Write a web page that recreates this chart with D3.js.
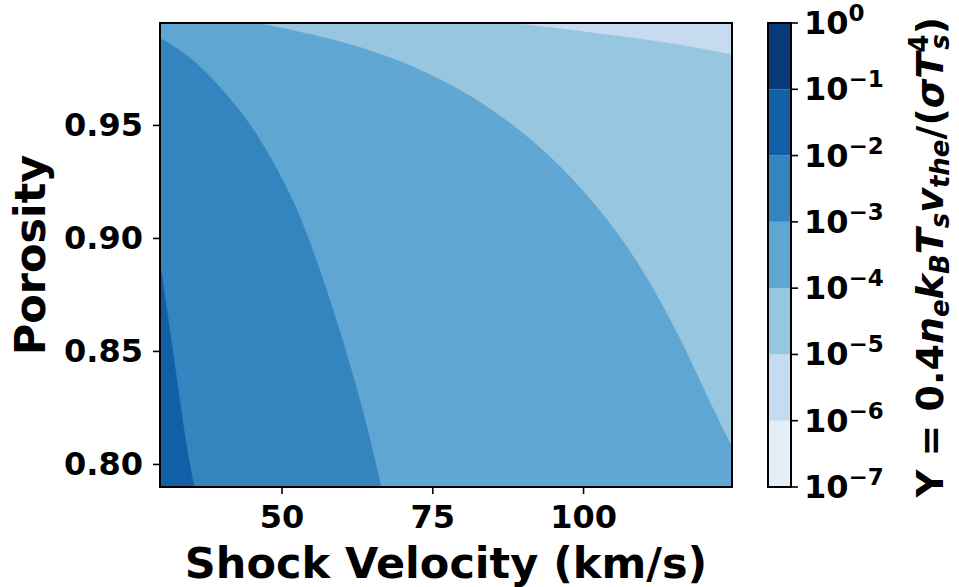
<!DOCTYPE html>
<html lang="en">
<head>
<meta charset="UTF-8">
<title>Porosity vs Shock Velocity</title>
<style>
  body { margin: 0; background: #fff; }
  svg { font-family: "DejaVu Sans", sans-serif; font-weight: bold; }
  .axis path, .axis line { stroke: #000; stroke-width: 1.6; }
</style>
</head>
<body>
<svg id="chart" width="959" height="587"></svg>
<script src="https://d3js.org/d3.v7.min.js"></script>
<script>
// ---- data ----
const velocityRange = [29.85, 124.7];   // km/s
const porosityRange = [0.7898, 0.9951];
const xTicks = [50, 75, 100];
const yTicks = [0.80, 0.85, 0.90, 0.95];
const levels = [1e-7, 1e-6, 1e-5, 1e-4, 1e-3, 1e-2, 1e-1, 1e0];
const levelColors = ["#e2eef8", "#c6dbef", "#97c6e0", "#60a6d2", "#3484bf", "#135fa7", "#083a7a"];

// contour boundaries [velocity, porosity]
const edge1e6 = [[87.8, 0.9951], [94.4, 0.9932], [102, 0.9905], [111, 0.9876], [118, 0.9845], [124.7, 0.981]];
const edge1e5 = [[45.9, 0.9951], [58.0, 0.9885], [69.0, 0.9796], [79.5, 0.9663], [88.0, 0.9513], [96.3, 0.9323],
  [104.3, 0.9079], [110.5, 0.8836], [116.3, 0.8548], [121.2, 0.8261], [124.7, 0.8075]];
const edge1e4 = [[29.85, 0.9884], [35.1, 0.9802], [40.8, 0.964], [45.2, 0.9493], [49.05, 0.9316], [52.2, 0.9153],
  [54.8, 0.8976], [57.3, 0.8785], [59.8, 0.8578], [62.4, 0.8342], [64.6, 0.8121], [66.5, 0.7898]];
const edge1e3 = [[29.85, 0.889], [31.0, 0.868], [32.55, 0.839], [34.1, 0.809], [35.5, 0.7898]];

const svg = d3.select('#chart');
const margin = { top: 23, right: 227, bottom: 100, left: 160 };
const width = 959 - margin.left - margin.right;
const height = 587 - margin.top - margin.bottom;

const x = d3.scaleLinear().domain(velocityRange).range([0, width]);
const y = d3.scaleLinear().domain(porosityRange).range([height, 0]);

const g = svg.append('g').attr('transform', `translate(${margin.left},${margin.top})`);

g.append('clipPath').attr('id', 'plotclip')
  .append('rect').attr('width', width).attr('height', height);

const plot = g.append('g').attr('clip-path', 'url(#plotclip)');

// background = lowest band present
plot.append('rect').attr('width', width).attr('height', height).attr('fill', levelColors[1]);

const smooth = d3.line().x(d => x(d[0])).y(d => y(d[1])).curve(d3.curveBasis);
const [v0, v1] = velocityRange;
const [p0, p1] = porosityRange;

function region(edge, corners) {
  return smooth(edge) + corners.map(c => `L${x(c[0])},${y(c[1])}`).join('') + 'Z';
}

const bands = [
  { edge: edge1e6, corners: [[v1, p0], [v0, p0], [v0, p1]], color: levelColors[2] },
  { edge: edge1e5, corners: [[v1, p0], [v0, p0], [v0, p1]], color: levelColors[3] },
  { edge: edge1e4, corners: [[v0, p0]], color: levelColors[4] },
  { edge: edge1e3, corners: [[v0, p0]], color: levelColors[5] }
];

plot.selectAll('path.band')
  .data(bands)
  .enter().append('path')
  .attr('class', 'band')
  .attr('d', d => region(d.edge, d.corners))
  .attr('fill', d => d.color)
  .attr('stroke', d => d.color)
  .attr('stroke-width', 0.5);

// axes
g.append('g').attr('class', 'axis')
  .attr('transform', `translate(0,${height})`)
  .call(d3.axisBottom(x).tickValues(xTicks).tickSize(7).tickPadding(11).tickFormat(d3.format('d')))
  .call(s => s.select('.domain').remove())
  .call(s => s.selectAll('text').attr('font-size', 32).attr('font-weight', 'bold')
    .attr('font-family', '"DejaVu Sans", sans-serif').attr('fill', '#000'));

g.append('g').attr('class', 'axis')
  .call(d3.axisLeft(y).tickValues(yTicks).tickSize(7).tickPadding(10).tickFormat(d3.format('.2f')))
  .call(s => s.select('.domain').remove())
  .call(s => s.selectAll('text').attr('font-size', 32).attr('font-weight', 'bold')
    .attr('font-family', '"DejaVu Sans", sans-serif').attr('fill', '#000'));

g.append('rect').attr('width', width).attr('height', height)
  .attr('fill', 'none').attr('stroke', '#000').attr('stroke-width', 2);

// axis titles
svg.append('text')
  .attr('x', margin.left + width / 2).attr('y', 578)
  .attr('text-anchor', 'middle').attr('font-size', 43)
  .text('Shock Velocity (km/s)');

svg.append('text')
  .attr('transform', `translate(45,${margin.top + height / 2}) rotate(-90)`)
  .attr('text-anchor', 'middle').attr('font-size', 43)
  .text('Porosity');

// colorbar
const cbX = 768, cbW = 23;
const cy = d3.scaleLog().domain([levels[0], levels[levels.length - 1]]).range([margin.top + height, margin.top]);
const cb = svg.append('g');

cb.selectAll('rect.cb')
  .data(d3.pairs(levels))
  .enter().append('rect')
  .attr('class', 'cb')
  .attr('x', cbX).attr('width', cbW)
  .attr('y', d => cy(d[1]))
  .attr('height', d => cy(d[0]) - cy(d[1]))
  .attr('fill', (d, i) => levelColors[i]);

cb.append('rect').attr('x', cbX).attr('y', margin.top).attr('width', cbW).attr('height', height)
  .attr('fill', 'none').attr('stroke', '#000').attr('stroke-width', 2);

const cbTicks = cb.selectAll('g.cbtick')
  .data(levels)
  .enter().append('g')
  .attr('class', 'cbtick')
  .attr('transform', d => `translate(${cbX + cbW},${cy(d)})`);

cbTicks.append('line').attr('x2', 7).attr('stroke', '#000').attr('stroke-width', 1.6);

const cbLabel = cbTicks.append('text')
  .attr('x', 13).attr('y', 11)
  .attr('font-size', 32);
cbLabel.append('tspan').text('10');
cbLabel.append('tspan')
  .attr('dy', -13).attr('font-size', 23)
  .text(d => Math.round(Math.log10(d)).toString().replace('-', '\u2212'));

// colorbar title (math)
const title = svg.append('text')
  .attr('transform', `translate(943,${margin.top + height / 2 + 2}) rotate(-90)`)
  .attr('text-anchor', 'middle').attr('font-size', 38);
const parts = [
  { t: 'Y = 0.4', style: 'normal' },
  { t: 'n', style: 'italic' },
  { t: 'e', style: 'italic', sub: true },
  { t: 'k', style: 'italic' },
  { t: 'B', style: 'italic', sub: true },
  { t: 'T', style: 'italic' },
  { t: 's', style: 'italic', sub: true },
  { t: 'v', style: 'italic' },
  { t: 'the', style: 'italic', sub: true },
  { t: '/(', style: 'normal' },
  { t: 'σT', style: 'italic' },
  { t: '4', style: 'normal', sup: true },
  { t: 's', style: 'italic', subAfterSup: true },
  { t: ')', style: 'normal' }
];
let shift = 0;
parts.forEach(p => {
  let target = 0;
  if (p.sub || p.subAfterSup) target = 6;
  if (p.sup) target = -15;
  const ts = title.append('tspan')
    .attr('font-style', p.style)
    .attr('dy', target - shift)
    .text(p.t);
  if (p.sub || p.sup || p.subAfterSup) ts.attr('font-size', 26);
  if (p.subAfterSup) ts.attr('dx', -15);
  shift = target;
});
</script>
</body>
</html>
